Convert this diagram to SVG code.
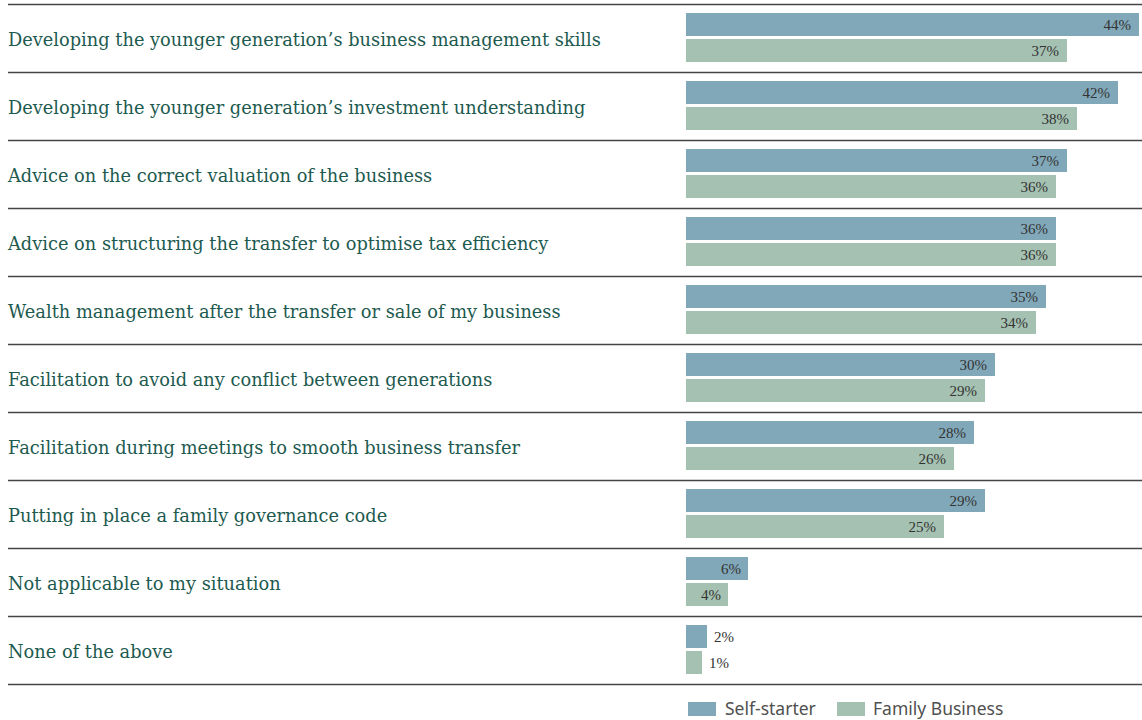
<svg xmlns="http://www.w3.org/2000/svg" width="1142" height="720" viewBox="0 0 1142 720">
<style>
.lbl{font-family:"DejaVu Serif","Liberation Serif",serif;font-size:17.8px;fill:#1d5a4f}
.pct{font-family:"Liberation Serif",serif;font-size:15px;fill:#333}
.s{fill:#81a8b9}
.f{fill:#a5c1b1}
.rule{stroke:#444;stroke-width:1.5}
.leg{font-family:"Noto Sans","DejaVu Sans",sans-serif;font-size:17.5px;fill:#505050}
</style>
<rect width="1142" height="720" fill="#fff"/>
<g id="rules">
<line class="rule" x1="8" y1="4.5" x2="1142" y2="4.5"/>
<line class="rule" x1="8" y1="72.5" x2="1142" y2="72.5"/>
<line class="rule" x1="8" y1="140.5" x2="1142" y2="140.5"/>
<line class="rule" x1="8" y1="208.5" x2="1142" y2="208.5"/>
<line class="rule" x1="8" y1="276.5" x2="1142" y2="276.5"/>
<line class="rule" x1="8" y1="344.5" x2="1142" y2="344.5"/>
<line class="rule" x1="8" y1="412.5" x2="1142" y2="412.5"/>
<line class="rule" x1="8" y1="480.5" x2="1142" y2="480.5"/>
<line class="rule" x1="8" y1="548.5" x2="1142" y2="548.5"/>
<line class="rule" x1="8" y1="616.5" x2="1142" y2="616.5"/>
<line class="rule" x1="8" y1="684.5" x2="1142" y2="684.5"/>
</g>
<g id="row1">
<text class="lbl" x="8" y="46">Developing the younger generation’s business management skills</text>
<rect class="s" x="686" y="13" width="453" height="23"/><text class="pct" x="1131" y="30" text-anchor="end">44%</text>
<rect class="f" x="686" y="39" width="381" height="23"/><text class="pct" x="1059" y="56" text-anchor="end">37%</text>
</g>
<g id="row2">
<text class="lbl" x="8" y="114">Developing the younger generation’s investment understanding</text>
<rect class="s" x="686" y="81" width="432" height="23"/><text class="pct" x="1110" y="98" text-anchor="end">42%</text>
<rect class="f" x="686" y="107" width="391" height="23"/><text class="pct" x="1069" y="124" text-anchor="end">38%</text>
</g>
<g id="row3">
<text class="lbl" x="8" y="182">Advice on the correct valuation of the business</text>
<rect class="s" x="686" y="149" width="381" height="23"/><text class="pct" x="1059" y="166" text-anchor="end">37%</text>
<rect class="f" x="686" y="175" width="370" height="23"/><text class="pct" x="1048" y="192" text-anchor="end">36%</text>
</g>
<g id="row4">
<text class="lbl" x="8" y="250">Advice on structuring the transfer to optimise tax efficiency</text>
<rect class="s" x="686" y="217" width="370" height="23"/><text class="pct" x="1048" y="234" text-anchor="end">36%</text>
<rect class="f" x="686" y="243" width="370" height="23"/><text class="pct" x="1048" y="260" text-anchor="end">36%</text>
</g>
<g id="row5">
<text class="lbl" x="8" y="318">Wealth management after the transfer or sale of my business</text>
<rect class="s" x="686" y="285" width="360" height="23"/><text class="pct" x="1038" y="302" text-anchor="end">35%</text>
<rect class="f" x="686" y="311" width="350" height="23"/><text class="pct" x="1028" y="328" text-anchor="end">34%</text>
</g>
<g id="row6">
<text class="lbl" x="8" y="386">Facilitation to avoid any conflict between generations</text>
<rect class="s" x="686" y="353" width="309" height="23"/><text class="pct" x="987" y="370" text-anchor="end">30%</text>
<rect class="f" x="686" y="379" width="299" height="23"/><text class="pct" x="977" y="396" text-anchor="end">29%</text>
</g>
<g id="row7">
<text class="lbl" x="8" y="454">Facilitation during meetings to smooth business transfer</text>
<rect class="s" x="686" y="421" width="288" height="23"/><text class="pct" x="966" y="438" text-anchor="end">28%</text>
<rect class="f" x="686" y="447" width="268" height="23"/><text class="pct" x="946" y="464" text-anchor="end">26%</text>
</g>
<g id="row8">
<text class="lbl" x="8" y="522">Putting in place a family governance code</text>
<rect class="s" x="686" y="489" width="299" height="23"/><text class="pct" x="977" y="506" text-anchor="end">29%</text>
<rect class="f" x="686" y="515" width="258" height="23"/><text class="pct" x="936" y="532" text-anchor="end">25%</text>
</g>
<g id="row9">
<text class="lbl" x="8" y="590">Not applicable to my situation</text>
<rect class="s" x="686" y="557" width="62" height="23"/><text class="pct" x="741" y="574" text-anchor="end">6%</text>
<rect class="f" x="686" y="583" width="42" height="23"/><text class="pct" x="721" y="600" text-anchor="end">4%</text>
</g>
<g id="row10">
<text class="lbl" x="8" y="658">None of the above</text>
<rect class="s" x="686" y="625" width="21" height="23"/><text class="pct" x="714" y="642">2%</text>
<rect class="f" x="686" y="651" width="16" height="23"/><text class="pct" x="709" y="668">1%</text>
</g>
<g id="legend">
<rect class="s" x="688" y="702" width="28" height="14"/>
<text class="leg" x="725" y="715">Self-starter</text>
<rect class="f" x="837" y="702" width="28" height="14"/>
<text class="leg" x="873" y="715">Family Business</text>
</g>
</svg>
